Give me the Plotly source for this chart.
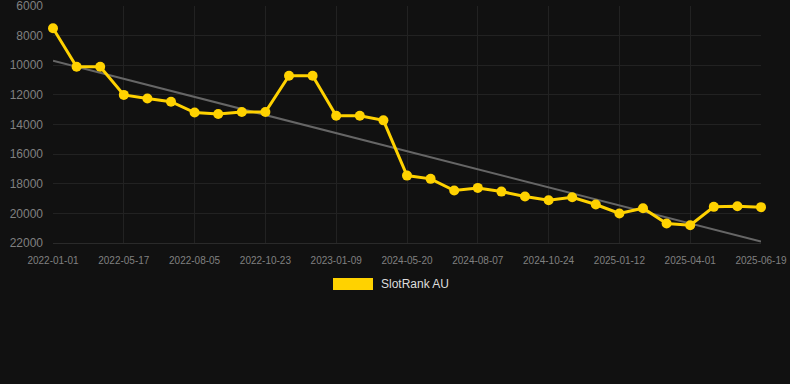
import plotly.graph_objects as go

dates = ["2022-01-01", "2022-02-19", "2022-04-09", "2022-05-17", "2022-06-12", "2022-07-09",
         "2022-08-05", "2022-09-01", "2022-09-27", "2022-10-23", "2022-11-19", "2022-12-16",
         "2023-01-09", "2023-02-05", "2023-03-04", "2024-05-20", "2024-06-18", "2024-07-13",
         "2024-08-07", "2024-09-03", "2024-09-29", "2024-10-24", "2024-11-20", "2024-12-16",
         "2025-01-12", "2025-02-07", "2025-03-06", "2025-04-01", "2025-04-28", "2025-05-24",
         "2025-06-19"]
ranks = [7500, 10100, 10100, 12000, 12240, 12460, 13190, 13290, 13160, 13160, 10710, 10710,
         13410, 13410, 13720, 17450, 17670, 18460, 18280, 18530, 18860, 19110, 18910, 19400,
         20010, 19650, 20680, 20800, 19560, 19520, 19580]
tick_labels = ["2022-01-01", "2022-05-17", "2022-08-05", "2022-10-23", "2023-01-09", "2024-05-20",
               "2024-08-07", "2024-10-24", "2025-01-12", "2025-04-01", "2025-06-19"]
trend_x = [dates[0], dates[-1]]
trend_y = [9700, 21900]
y_ticks = [6000, 8000, 10000, 12000, 14000, 16000, 18000, 20000, 22000]
y_tick_text = [str(v) for v in y_ticks]
series_name = "SlotRank AU"

fig = go.Figure()
fig.add_trace(go.Scatter(x=trend_x, y=trend_y, mode="lines", line=dict(color="#666666", width=2),
                         showlegend=False))
fig.add_trace(go.Scatter(x=dates, y=ranks, mode="lines+markers", name=series_name,
                         line=dict(color="#FFD200", width=3), cliponaxis=False,
                         marker=dict(color="#FFD200", size=10), showlegend=False))

fig.update_layout(
    width=790, height=384,
    margin=dict(l=53, r=29, t=6, b=141),
    paper_bgcolor="#111111", plot_bgcolor="#111111",
    font=dict(family="Liberation Sans, Arial, sans-serif"),
    showlegend=False,
)
fig.update_xaxes(type="category", categoryorder="array", categoryarray=dates,
                 tickmode="array", tickvals=tick_labels, ticktext=tick_labels,
                 range=[0, len(dates) - 1], showgrid=True, gridcolor="#222222", gridwidth=1,
                 zeroline=False, showline=True, linecolor="#2a2a2a", automargin=False,
                 tickfont=dict(size=10, color="#808080"), ticks="", tickangle=0,
                 ticklabelstandoff=8, ticklabeloverflow="allow")
fig.update_yaxes(autorange=False, range=[22000, 5999], tickmode="array",
                 tickvals=y_ticks, ticktext=y_tick_text, automargin=False,
                 showgrid=True, gridcolor="#222222", gridwidth=1, zeroline=False,
                 tickfont=dict(size=12, color="#808080"), ticks="", ticklabelstandoff=9,
                 ticklabeloverflow="allow")

fig.add_shape(type="rect", xref="paper", yref="paper",
              x0=(333 - 53) / 708, x1=(373 - 53) / 708,
              y0=-(290 - 243) / 237, y1=-(278 - 243) / 237,
              fillcolor="#FFD200", line=dict(width=0))
fig.add_annotation(text=series_name, xref="paper", yref="paper",
                   x=(379 - 53) / 708, y=-(284 - 243) / 237, xanchor="left", yanchor="middle",
                   showarrow=False, font=dict(size=12, color="#dddddd"))

fig.write_html("out.html")
